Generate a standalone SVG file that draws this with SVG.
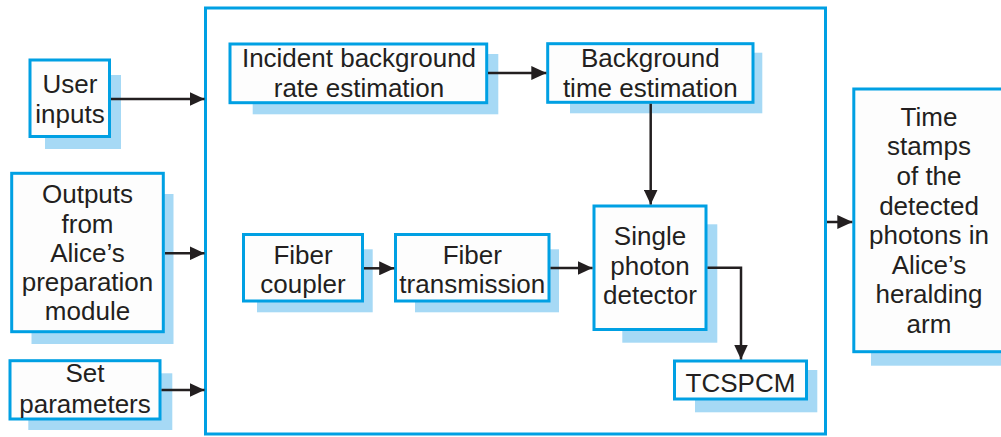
<svg xmlns="http://www.w3.org/2000/svg" width="1001" height="437" viewBox="0 0 1001 437">
  <defs>
    <style>
      .box { fill: #fdfdfd; stroke: #00a0e3; stroke-width: 3; }
      .shadow { fill: #a6d9f5; stroke: none; }
      .frame { fill: none; stroke: #00a0e3; stroke-width: 3; }
      .lbl { font-family: "Liberation Sans", Arial, sans-serif; font-size: 26px; fill: #231f20; text-anchor: middle; }
      .wire { fill: none; stroke: #231f20; stroke-width: 2.5; }
    </style>
    <marker id="arrow" viewBox="0 0 15 14" refX="15" refY="7" markerWidth="15" markerHeight="14" markerUnits="userSpaceOnUse" orient="auto">
      <path d="M0,0 L15,7 L0,14 z" fill="#231f20"/>
    </marker>
  </defs>
  <rect width="1001" height="437" fill="#ffffff"/>

  <!-- simulation module frame -->
  <g id="simulator">
    <rect class="frame" x="205.5" y="8" width="620" height="426"/>
  </g>

  <g id="user-inputs">
    <rect class="shadow" x="45" y="75" width="76" height="74"/>
    <rect class="box" x="30" y="60" width="79.5" height="76.5"/>
    <text class="lbl" x="70" y="93">User</text>
    <text class="lbl" x="70" y="122.5">inputs</text>
  </g>

  <g id="alice-outputs">
    <rect class="shadow" x="31.5" y="194" width="142" height="150"/>
    <rect class="box" x="11.7" y="173.3" width="151.6" height="158.4"/>
    <text class="lbl" x="87.5" y="203.3">Outputs</text>
    <text class="lbl" x="87.5" y="232.5">from</text>
    <text class="lbl" x="87.5" y="261.5">Alice’s</text>
    <text class="lbl" x="87.5" y="290.5">preparation</text>
    <text class="lbl" x="87.5" y="319.5">module</text>
  </g>

  <g id="set-parameters">
    <rect class="shadow" x="28.3" y="373.3" width="144" height="56.7"/>
    <rect class="box" x="10" y="360.7" width="150" height="58.3"/>
    <text class="lbl" x="85" y="382">Set</text>
    <text class="lbl" x="85" y="412.5">parameters</text>
  </g>

  <g id="incident-background">
    <rect class="shadow" x="252.7" y="54" width="245.6" height="60.3"/>
    <rect class="box" x="230" y="44" width="256.7" height="58.7"/>
    <text class="lbl" x="359" y="66.7">Incident background</text>
    <text class="lbl" x="359" y="96.7">rate estimation</text>
  </g>

  <g id="background-time">
    <rect class="shadow" x="570" y="52.7" width="192.3" height="60.6"/>
    <rect class="box" x="547.7" y="43.7" width="205.3" height="58.6"/>
    <text class="lbl" x="650.3" y="67.3">Background</text>
    <text class="lbl" x="650.3" y="96.7">time estimation</text>
  </g>

  <g id="fiber-coupler">
    <rect class="shadow" x="257" y="249.3" width="115.7" height="63"/>
    <rect class="box" x="243.5" y="234.5" width="119" height="66.5"/>
    <text class="lbl" x="303" y="264.3">Fiber</text>
    <text class="lbl" x="303" y="292.7">coupler</text>
  </g>

  <g id="fiber-transmission">
    <rect class="shadow" x="415" y="249.3" width="144" height="63"/>
    <rect class="box" x="395.5" y="234.5" width="153.5" height="66.5"/>
    <text class="lbl" x="472.3" y="264.3">Fiber</text>
    <text class="lbl" x="472.3" y="292.7">transmission</text>
  </g>

  <g id="single-photon-detector">
    <rect class="shadow" x="622.3" y="224.3" width="95" height="118.4"/>
    <rect class="box" x="594" y="206" width="112" height="123.5"/>
    <text class="lbl" x="650" y="245">Single</text>
    <text class="lbl" x="650" y="274.5">photon</text>
    <text class="lbl" x="650" y="304.3">detector</text>
  </g>

  <g id="tcspcm">
    <rect class="shadow" x="695" y="370" width="122.3" height="42.3"/>
    <rect class="box" x="674.5" y="361" width="132" height="38"/>
    <text class="lbl" x="740.5" y="391.7">TCSPCM</text>
  </g>

  <g id="time-stamps">
    <rect class="shadow" x="871" y="110" width="140" height="255.7"/>
    <rect class="box" x="853.8" y="89" width="150.4" height="262.7"/>
    <text class="lbl" x="929" y="125.7">Time</text>
    <text class="lbl" x="929" y="155.3">stamps</text>
    <text class="lbl" x="929" y="184.9">of the</text>
    <text class="lbl" x="929" y="214.5">detected</text>
    <text class="lbl" x="929" y="244">photons in</text>
    <text class="lbl" x="929" y="273.6">Alice’s</text>
    <text class="lbl" x="929" y="303.2">heralding</text>
    <text class="lbl" x="929" y="332.8">arm</text>
  </g>

  <!-- connectors -->
  <g id="connectors">
    <line class="wire" x1="111" y1="99" x2="204.5" y2="99" marker-end="url(#arrow)"/>
    <line class="wire" x1="165" y1="253.3" x2="204.5" y2="253.3" marker-end="url(#arrow)"/>
    <line class="wire" x1="161.5" y1="390" x2="204.5" y2="390" marker-end="url(#arrow)"/>
    <line class="wire" x1="488" y1="73" x2="546.3" y2="73" marker-end="url(#arrow)"/>
    <line class="wire" x1="650.7" y1="103.8" x2="650.7" y2="204.5" marker-end="url(#arrow)"/>
    <line class="wire" x1="364" y1="268.3" x2="394.2" y2="268.3" marker-end="url(#arrow)"/>
    <line class="wire" x1="550.5" y1="268" x2="592.5" y2="268" marker-end="url(#arrow)"/>
    <polyline class="wire" points="707.5,267.7 741,267.7 741,359.5" marker-end="url(#arrow)"/>
    <line class="wire" x1="827" y1="222" x2="852.3" y2="222" marker-end="url(#arrow)"/>
  </g>
</svg>
